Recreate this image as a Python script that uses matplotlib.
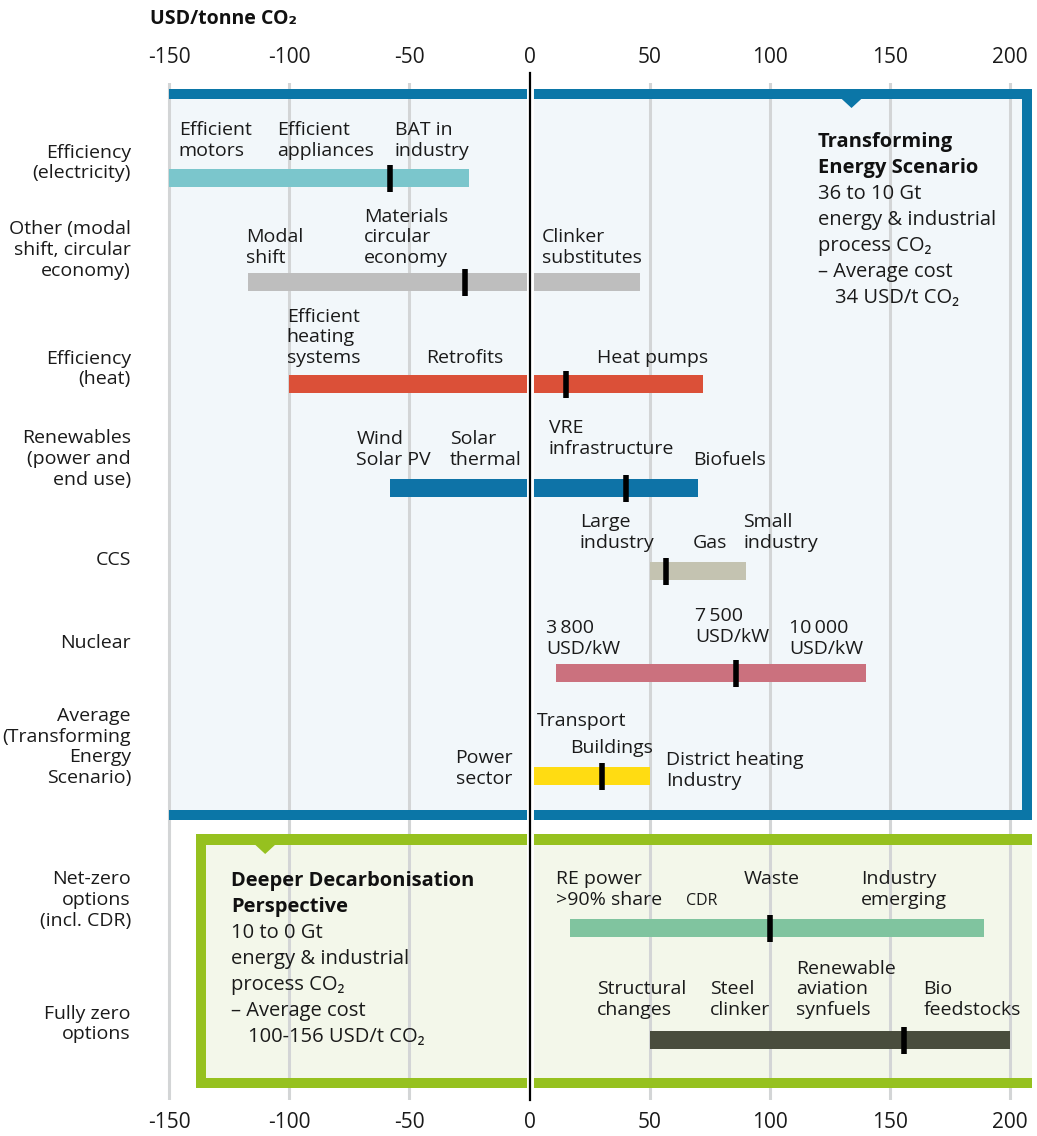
import matplotlib
matplotlib.use("Agg")
import matplotlib.pyplot as plt
from matplotlib.patches import Rectangle, Polygon

plt.rcParams['font.family'] = ['Open Sans', 'DejaVu Sans']

# data ------------------------------------------------------------
categories = ["Efficiency\n(electricity)", "Other (modal\nshift, circular\neconomy)",
              "Efficiency\n(heat)", "Renewables\n(power and\nend use)", "CCS", "Nuclear",
              "Average\n(Transforming\nEnergy\nScenario)", "Net-zero\noptions\n(incl. CDR)",
              "Fully zero\noptions"]
low = [-150, -117, -100, -58, 50, 11, 0, 17, 50]
high = [-25, 46, 72, 70, 90, 140, 50, 189, 200]
mid = [-58, -27, 15, 40, 57, 86, 30, 100, 156]
colors = ['#7BC6CC', '#BEBEBE', '#DB5038', '#0E73A7', '#C4C3B1', '#CB717E',
          '#FFDC12', '#80C49F', '#494D3D']
ticks = [-150, -100, -50, 0, 50, 100, 150, 200]

# labels above the bars: (row, x value, text, align)
notes = [
    (0, -146, "Efficient\nmotors", 'left'), (0, -105, "Efficient\nappliances", 'left'),
    (0, -56, "BAT in\nindustry", 'left'),
    (1, -118, "Modal\nshift", 'left'), (1, -69, "Materials\ncircular\neconomy", 'left'),
    (1, 5, "Clinker\nsubstitutes", 'left'),
    (2, -101, "Efficient\nheating\nsystems", 'left'), (2, -43, "Retrofits", 'left'),
    (2, 28, "Heat pumps", 'left'),
    (3, -72, "Wind\nSolar PV", 'left'), (3, -33, "Solar\nthermal", 'left'),
    (3, 8, "VRE\ninfrastructure", 'left'), (3, 68, "Biofuels", 'left'),
    (4, 21, "Large\nindustry", 'left'), (4, 68, "Gas", 'left'), (4, 89, "Small\nindustry", 'left'),
    (5, 7, "3\u2009800\nUSD/kW", 'left'), (5, 69, "7\u2009500\nUSD/kW", 'left'),
    (5, 108, "10\u2009000\nUSD/kW", 'left'),
    (6, 3, "Transport", 'left'), (6, 17, "Buildings", 'left'),
    (6, 57, "District heating\nIndustry", 'left'), (6, -7, "Power\nsector", 'right'),
    (7, 11, "RE power\n>90% share", 'left'), (7, 65, "CDR", 'left'),
    (7, 89, "Waste", 'left'), (7, 138, "Industry\nemerging", 'left'),
    (8, 28, "Structural\nchanges", 'left'), (8, 75, "Steel\nclinker", 'left'),
    (8, 111, "Renewable\naviation\nsynfuels", 'left'), (8, 164, "Bio\nfeedstocks", 'left'),
]

# layout (y in pixels from top) -----------------------------------
row_y = [178, 282, 384, 488, 571, 673, 776, 928, 1040]
label_y = [163, 250, 369, 459, 560, 643, 747, 900, 1024]
# baseline of the last line of each note, in the same order as notes
note_base = [156, 156, 156,
             263, 263, 263,
             363, 363, 363,
             465, 465, 454, 465,
             548, 548, 548,
             654, 642, 654,
             726, 753, 786, 784,
             905, 905, 884, 905,
             1015, 1015, 1015, 1015]

blue = '#0B76A7'
green = '#96C11F'
ink = '#1a1a1a'
fs = 14
ls = 1.19
bfs = 14.5
bls = 1.39

W, H = 1037, 1136
fig = plt.figure(figsize=(W / 100, H / 100), dpi=100)
px = 2.403  # pixels per USD
x0 = 529.5
ax = fig.add_axes([140 / W, 36 / H, (W - 140) / W, (1100 - 83) / H])
ax.set_xlim((140 - x0) / px, (W - x0) / px)
ax.set_ylim(1100, 83)
for s in ax.spines.values():
    s.set_visible(False)
ax.set_yticks([])
ax.set_xticks(ticks)
ax.set_xticklabels([str(t) for t in ticks])
ax.tick_params(axis='x', length=0, labelsize=15, labelcolor=ink, pad=9)
top = ax.secondary_xaxis('top')
top.set_xticks(ticks)
top.set_xticklabels([str(t) for t in ticks])
top.tick_params(axis='x', length=0, labelsize=15, labelcolor=ink, pad=11)
top.spines['top'].set_visible(False)
ax.grid(axis='x', color='#D3D5D6', lw=2.2, zorder=1)
ax.set_axisbelow(True)

# boxes
ax.add_patch(Rectangle((-150, 99), (1022 - x0) / px + 150, 711, fc='#F2F7FA', ec='none', zorder=0))
ax.add_patch(Rectangle(((206 - x0) / px, 845), (1032 - 206) / px, 233, fc='#F3F7EA', ec='none', zorder=0))

bx1 = (1032 - x0) / px
ax.add_patch(Rectangle((-150, 89), bx1 + 150, 10, fc=blue, ec='none', zorder=3))
ax.add_patch(Rectangle((-150, 810), bx1 + 150, 10, fc=blue, ec='none', zorder=3))
ax.add_patch(Rectangle(((1022 - x0) / px, 89), 10 / px, 731, fc=blue, ec='none', zorder=3))
ax.add_patch(Polygon([[134 - 4.5, 98], [134 + 4.5, 98], [134, 108]], fc=blue, ec='none', zorder=3))

gx0 = (196 - x0) / px
ax.add_patch(Rectangle((gx0, 834), bx1 - gx0, 11, fc=green, ec='none', zorder=3))
ax.add_patch(Rectangle((gx0, 1078), bx1 - gx0, 10, fc=green, ec='none', zorder=3))
ax.add_patch(Rectangle((gx0, 834), 10 / px, 254, fc=green, ec='none', zorder=3))
ax.add_patch(Polygon([[-110 - 4.5, 844], [-110 + 4.5, 844], [-110, 854]], fc=green, ec='none', zorder=3))

# bars
for i in range(len(categories)):
    ax.barh(row_y[i], high[i] - low[i], left=low[i], height=18, color=colors[i], zorder=2)
    ax.plot([mid[i], mid[i]], [row_y[i] - 13.5, row_y[i] + 13.5], color='black', lw=4,
            solid_capstyle='butt', zorder=4)
    ax.text((131 - x0) / px, label_y[i], categories[i], ha='right', va='center',
            multialignment='right', fontsize=fs, color=ink, linespacing=ls)

# zero line with white gap
ax.plot([0, 0], [1100, 73], color='white', lw=5, zorder=5, clip_on=False)
ax.plot([0, 0], [1100, 73], color='black', lw=1.6, zorder=6, clip_on=False)

for (r, xv, txt, ha), yb in zip(notes, note_base):
    ax.text(xv, yb, txt, ha=ha, va='baseline', multialignment=ha,
            fontsize=11.5 if txt == "CDR" else fs, color=ink, linespacing=ls, zorder=7)

# box texts
ax.text((818 - x0) / px, 173, "Transforming\nEnergy Scenario", fontweight='bold', fontsize=bfs,
        va='baseline', linespacing=bls, color='#111111', zorder=7)
ax.text((818 - x0) / px, 277, "36 to 10 Gt\nenergy & industrial\nprocess CO\u2082\n\u2013 Average cost",
        fontsize=bfs, va='baseline', linespacing=bls, color=ink, zorder=7)
ax.text((835 - x0) / px, 303, "34 USD/t CO\u2082", fontsize=bfs, va='baseline', color=ink, zorder=7)

ax.text((231 - x0) / px, 912, "Deeper Decarbonisation\nPerspective", fontweight='bold', fontsize=bfs,
        va='baseline', linespacing=bls, color='#111111', zorder=7)
ax.text((231 - x0) / px, 1016, "10 to 0 Gt\nenergy & industrial\nprocess CO\u2082\n\u2013 Average cost",
        fontsize=bfs, va='baseline', linespacing=bls, color=ink, zorder=7)
ax.text((248 - x0) / px, 1042, "100-156 USD/t CO\u2082", fontsize=bfs, va='baseline', color=ink, zorder=7)

fig.text(150 / W, 1 - 19 / H, "USD/tonne CO\u2082", fontweight='bold', fontsize=14,
         va='center', ha='left', color='#111111')

fig.savefig('out.png', dpi=100)
